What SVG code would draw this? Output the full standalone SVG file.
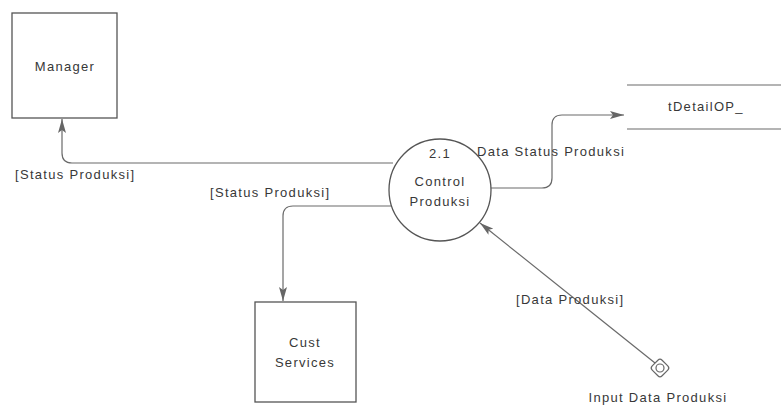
<svg xmlns="http://www.w3.org/2000/svg" width="781" height="414" viewBox="0 0 781 414">
<style>
text{font-family:"Liberation Sans",Arial,sans-serif;font-size:13px;fill:#383838;letter-spacing:1.3px}
.box{fill:#fff;stroke:#555;stroke-width:1.3}
.ln{fill:none;stroke:#6a6a6a;stroke-width:1.2}
.c{text-anchor:middle}
</style>
<defs>
<marker id="ah" viewBox="0 0 14 8" refX="14" refY="4" markerWidth="14" markerHeight="8" markerUnits="userSpaceOnUse" orient="auto">
<path d="M0,0 L14,4 L0,8 L3,4 Z" fill="#666"/>
</marker>
</defs>
<rect width="781" height="414" fill="#fff"/>
<g id="connectors">
<path class="ln" d="M393,163 H72 Q62,163 62,153 V119" marker-end="url(#ah)"/>
<path class="ln" d="M392,206 H293 Q283,206 283,216 V301" marker-end="url(#ah)"/>
<path class="ln" d="M491,188 H542 Q552,188 552,178 V125 Q552,115 562,115 H624" marker-end="url(#ah)"/>
<path class="ln" d="M655,363 L480,223" marker-end="url(#ah)" stroke="#777"/>
<text x="15" y="179">[Status Produksi]</text>
<text x="210" y="197">[Status Produksi]</text>
<text x="477" y="156">Data Status Produksi</text>
<text x="516" y="304">[Data Produksi]</text>
</g>
<g id="manager">
<rect class="box" x="12" y="13" width="105" height="105"/>
<text class="c" x="65" y="71">Manager</text>
</g>
<g id="cust-services">
<rect class="box" x="255" y="302" width="101" height="100"/>
<text class="c" x="305" y="347">Cust</text>
<text class="c" x="305" y="367">Services</text>
</g>
<g id="control-produksi">
<circle cx="440" cy="190" r="51" fill="#fff" stroke="#555" stroke-width="1.3"/>
<text class="c" x="440" y="158">2.1</text>
<text class="c" x="440" y="186">Control</text>
<text class="c" x="440" y="206">Produksi</text>
</g>
<g id="datastore">
<line class="ln" x1="627" y1="85" x2="781" y2="85"/>
<line class="ln" x1="627" y1="129" x2="781" y2="129"/>
<text x="668" y="111">tDetailOP_</text>
</g>
<g id="input-data-produksi">
<rect x="653" y="361" width="14" height="14" rx="3" transform="rotate(45 660 368)" fill="#fff" stroke="#666" stroke-width="1.2"/>
<circle cx="660" cy="368" r="4" fill="none" stroke="#666" stroke-width="1.2"/>
<text class="c" x="658" y="402">Input Data Produksi</text>
</g>
</svg>
